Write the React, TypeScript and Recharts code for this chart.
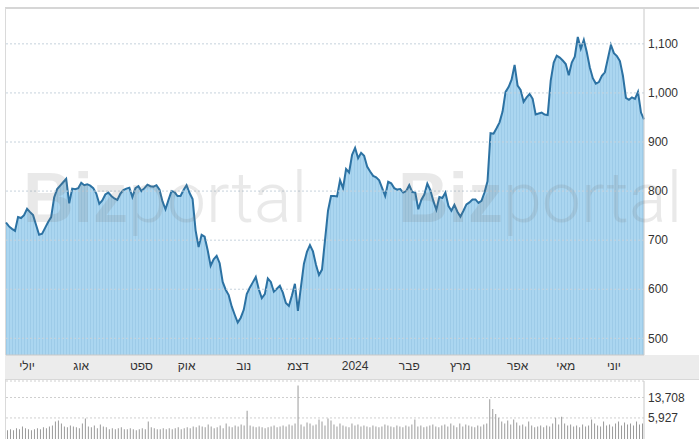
import React from 'react';
import {
  AreaChart,
  Area,
  BarChart,
  Bar,
  XAxis,
  YAxis,
  CartesianGrid,
  ReferenceLine,
} from 'recharts';

// closing price per trading session, Jul 2023 - Jun 2024
const priceValues = [
  736, 728, 723, 719, 747, 745, 751, 764, 757, 751,
  731, 711, 713, 725, 737, 747, 787, 804, 811, 818,
  825, 775, 805, 804, 806, 817, 812, 814, 811, 806,
  795, 774, 781, 793, 797, 790, 785, 782, 795, 802,
  805, 807, 788, 806, 810, 800, 806, 813, 810, 809,
  812, 803, 779, 763, 782, 800, 798, 790, 790, 802,
  812, 796, 784, 720, 686, 711, 707, 680, 648, 661,
  668, 653, 615, 599, 588, 565, 548, 532, 542, 558,
  590, 603, 614, 625, 600, 582, 590, 622, 615, 595,
  601, 607, 593, 572, 566, 587, 611, 556, 605, 652,
  676, 690, 677, 650, 629, 640, 700, 760, 790, 790,
  789, 822, 806, 845, 838, 874, 888, 867, 878, 872,
  850, 840, 831, 828, 822, 806, 790, 819, 816, 806,
  803, 804, 797, 800, 812, 798, 797, 763, 782, 793,
  815, 802, 780, 762, 788, 786, 797, 770, 760, 772,
  758, 748, 760, 773, 777, 783, 783, 776, 780, 797,
  820, 918, 917, 928, 940, 962, 1002, 1012, 1027, 1057,
  1015, 1006, 982, 991, 998, 988, 956, 958, 960, 956,
  955, 1025, 1062, 1076, 1072, 1066, 1059, 1036, 1062, 1074,
  1114, 1090, 1108, 1083, 1052, 1030, 1019, 1022, 1035, 1042,
  1070, 1098, 1081, 1075, 1065, 1035, 990, 986, 991, 988,
  1002, 960, 946,
];

// traded volume per session
const volumeValues = [
  3570, 3720, 3570, 3870, 3720, 4190, 3870, 3720, 3570, 3720,
  3870, 3720, 4030, 3870, 4190, 4360, 5120, 5320, 4720, 4190,
  4030, 4360, 4190, 4030, 3870, 4720, 5770, 4190, 4030, 4360,
  3870, 4540, 4190, 4030, 3720, 3870, 3720, 3870, 4030, 3720,
  3720, 3870, 3720, 3570, 3720, 3870, 3720, 5120, 4030, 3870,
  3720, 3720, 3870, 3720, 3870, 3720, 3870, 4030, 3720, 3870,
  4030, 3870, 4190, 4030, 4360, 4190, 4030, 4540, 4190, 3870,
  4030, 4360, 3870, 4720, 4190, 4030, 4360, 4190, 4540, 4360,
  7930, 4360, 4190, 4030, 4190, 4030, 3870, 4030, 4190, 4360,
  4030, 4190, 4360, 4190, 4540, 4360, 4720, 22400, 4540, 4190,
  4920, 4720, 4360, 4540, 5540, 5120, 4360, 5770, 5320, 4540,
  4190, 4720, 4360, 4190, 4030, 4720, 4360, 4540, 4190, 4360,
  4190, 4030, 4360, 4190, 4030, 4190, 4540, 4360, 4190, 4030,
  4360, 4190, 4030, 4360, 4190, 4540, 5540, 4190, 4360, 4030,
  4190, 4360, 4540, 4190, 4030, 4360, 4540, 4190, 4720, 4360,
  4030, 4720, 4190, 4540, 4360, 4190, 4030, 4360, 4190, 4540,
  4720, 12810, 8590, 7000, 6000, 5120, 4720, 5320, 4540, 5540,
  4920, 4360, 4540, 4190, 5120, 4360, 4030, 4190, 4360, 4030,
  4360, 4190, 4720, 6000, 4540, 6250, 4720, 4360, 4540, 4190,
  4360, 4030, 4540, 4190, 4360, 5540, 4720, 4360, 4190, 5120,
  4360, 4540, 4190, 4720, 5120, 4360, 4920, 4540, 4720, 4360,
  5120, 4540, 4720,
];

const monthTickDays = [7, 25, 45, 60, 79, 97, 116, 134, 151, 170, 186, 202];
const monthLabels = ['יולי', 'אוג', 'ספט', 'אוק', 'נוב', 'דצמ', '2024', 'פבר', 'מרץ', 'אפר', 'מאי', 'יוני'];
const priceTicks = [500, 600, 700, 800, 900, 1000, 1100];
const volumeTicks = [5927, 13708];

const data = priceValues.map((price, day) => ({ day, price, volume: volumeValues[day] }));

const FONT = 'Arial, "Liberation Sans", sans-serif';
const fmt = (v: number) => v.toLocaleString('en-US');

const Watermark = ({ x }: { x: number }) => (
  <text x={x} y={222} fontSize={70} fill="rgba(120,120,120,0.16)">
    <tspan fontFamily={FONT} fontWeight={700}>Biz</tspan>
    <tspan fontFamily="Roboto, Arial, sans-serif" fontWeight={300}>portal</tspan>
  </text>
);

export default function App() {
  return (
    <div style={{ position: 'fixed', left: 0, top: 0, width: 699, height: 439, overflow: 'hidden', background: '#fff', fontFamily: FONT }}>
      {/* frame */}
      <div style={{ position: 'absolute', left: 5, top: 7, width: 694, height: 2, background: '#d6d6d6' }} />
      <div style={{ position: 'absolute', left: 5, top: 8, width: 1, height: 431, background: '#dadada' }} />
      {/* month band */}
      <div style={{ position: 'absolute', left: 5, top: 355, width: 694, height: 25, background: '#ececec', borderBottom: '1px solid #d8d8d8', boxSizing: 'border-box' }} />

      <div style={{ position: 'absolute', left: 0, top: 0 }}>
        <AreaChart width={699} height={380} data={data} margin={{ top: 9, right: 0, bottom: 0, left: 6 }}>
          <defs>
            <pattern id="pstripe" width="3" height="4" patternUnits="userSpaceOnUse">
              <rect width="3" height="4" fill="#abd6f0" />
              <rect width="1" height="4" fill="#9dcbe8" />
            </pattern>
          </defs>
          <XAxis
            dataKey="day"
            type="number"
            domain={[0, 212]}
            ticks={monthTickDays}
            interval={0}
            tickFormatter={(v: number) => monthLabels[monthTickDays.indexOf(v)]}
            height={25}
            tickLine={false}
            tickSize={4}
            tickMargin={2}
            axisLine={{ stroke: '#c8c8c8' }}
            tick={{ fill: '#333', fontSize: 12, fontFamily: FONT }}
          />
          <YAxis
            orientation="right"
            width={55}
            domain={[466, 1171]}
            ticks={priceTicks}
            interval={0}
            allowDataOverflow
            tickFormatter={fmt}
            tickLine={false}
            tickSize={2}
            tickMargin={2}
            axisLine={{ stroke: '#c8c8c8' }}
            tick={{ fill: '#333', fontSize: 12, fontFamily: FONT, textAnchor: 'start' }}
          />
          <Area
            type="linear"
            dataKey="price"
            stroke="#2c72a3"
            strokeWidth={2}
            fill="url(#pstripe)"
            fillOpacity={1}
            dot={false}
            activeDot={false}
            isAnimationActive={false}
          />
          {priceTicks.map((t) => (
            <ReferenceLine key={t} y={t} stroke="#c6d2dc" strokeDasharray="2 2" />
          ))}
        </AreaChart>
      </div>

      <div style={{ position: 'absolute', left: 0, top: 380 }}>
        <BarChart width={699} height={61} data={data} margin={{ top: 1, right: 0, bottom: 0, left: 6 }} barCategoryGap={1}>
          <CartesianGrid vertical={false} stroke="#cfcfcf" strokeDasharray="2 2" />
          <XAxis dataKey="day" hide />
          <YAxis
            orientation="right"
            width={55}
            scale="log"
            domain={[2300, 27000]}
            ticks={volumeTicks}
            interval={0}
            allowDataOverflow
            tickFormatter={fmt}
            tickLine={false}
            tickSize={2}
            tickMargin={2}
            axisLine={{ stroke: '#c8c8c8' }}
            tick={{ fill: '#333', fontSize: 12, fontFamily: FONT, textAnchor: 'start' }}
          />
          <Bar dataKey="volume" fill="#9a9a9a" isAnimationActive={false} />
        </BarChart>
      </div>

      <svg width={699} height={439} style={{ position: 'absolute', left: 0, top: 0, pointerEvents: 'none' }}>
        <Watermark x={23} />
        <Watermark x={398} />
      </svg>
    </div>
  );
}
